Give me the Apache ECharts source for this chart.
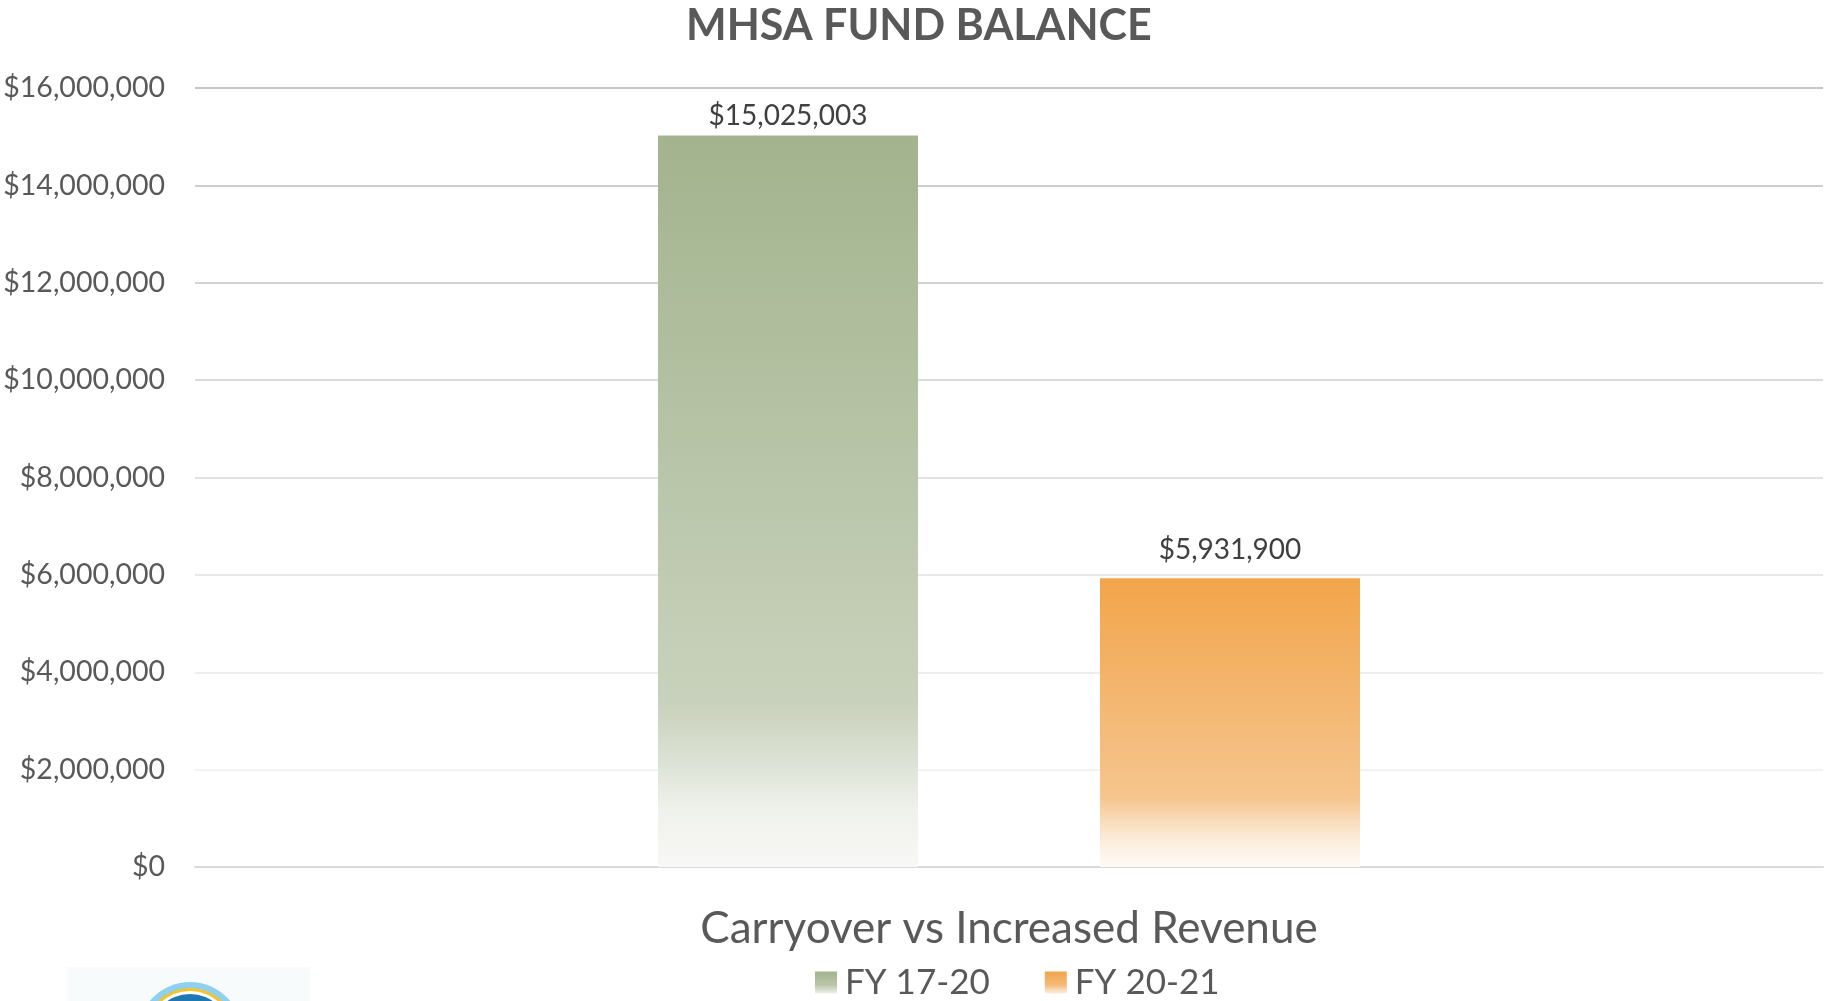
<!DOCTYPE html>
<html>
<head>
<meta charset="utf-8">
<script src="https://cdn.jsdelivr.net/npm/echarts@6/dist/echarts.min.js"></script>
<style>
html,body{margin:0;padding:0;background:#fff;}
#chart{width:1827px;height:1001px;}
</style>
</head>
<body>
<div id="chart"></div>
<script>
const categories = ['Carryover vs Increased Revenue'];
const seriesNames = ['FY 17-20', 'FY 20-21'];
const fy1720 = [15025003];
const fy2021 = [5931900];
const yTicks = { min: 0, max: 16000000, interval: 2000000 };

const FONT = 'Lato, "Open Sans", sans-serif';
const money = v => '$' + Math.round(v).toLocaleString('en-US');

const greenGrad = new echarts.graphic.LinearGradient(0, 0, 0, 1, [
  { offset: 0, color: '#a3b38d' },
  { offset: 0.45, color: '#b8c5a8' },
  { offset: 0.78, color: '#c9d2bc' },
  { offset: 0.86, color: '#dde3d6' },
  { offset: 0.92, color: '#eff1eb' },
  { offset: 1, color: '#f8f8f6' }
]);
const orangeGrad = new echarts.graphic.LinearGradient(0, 0, 0, 1, [
  { offset: 0, color: '#f2a54a' },
  { offset: 0.5, color: '#f4ba78' },
  { offset: 0.76, color: '#f6c58e' },
  { offset: 0.84, color: '#f9dcbb' },
  { offset: 0.92, color: '#fcefe0' },
  { offset: 1, color: '#fefaf6' }
]);
const greenLegend = new echarts.graphic.LinearGradient(0, 0, 0, 1, [
  { offset: 0, color: '#a3b38d' }, { offset: 0.6, color: '#b8c5a8' }, { offset: 1, color: '#eef1ea' }
]);
const orangeLegend = new echarts.graphic.LinearGradient(0, 0, 0, 1, [
  { offset: 0, color: '#f2a54a' }, { offset: 0.6, color: '#f4ba78' }, { offset: 1, color: '#fcefe0' }
]);

const chart = echarts.init(document.getElementById('chart'), null, { renderer: 'canvas' });
chart.setOption({
  animation: false,
  backgroundColor: '#ffffff',
  title: {
    text: 'MHSA FUND BALANCE',
    left: 681,
    top: 0,
    textStyle: { fontFamily: FONT, fontWeight: 'bold', fontSize: 43, color: '#595959' }
  },
  grid: { left: 195, right: 4, top: 88, bottom: 134, containLabel: false },
  legend: {
    data: [
      { name: seriesNames[0], itemStyle: { color: greenLegend } },
      { name: seriesNames[1], itemStyle: { color: orangeLegend } }
    ],
    top: 960,
    left: 810,
    itemWidth: 22,
    itemHeight: 22,
    itemGap: 55,
    icon: 'rect',
    textStyle: { fontFamily: FONT, fontSize: 35, color: '#595959', padding: [0, 0, 0, 3] }
  },
  xAxis: {
    type: 'category',
    data: categories,
    axisTick: { show: false },
    axisLine: { lineStyle: { color: '#d9d9d9', width: 2 } },
    axisLabel: { fontFamily: FONT, fontSize: 44, color: '#595959', margin: 40 }
  },
  yAxis: {
    type: 'value',
    min: yTicks.min,
    max: yTicks.max,
    interval: yTicks.interval,
    axisLine: { show: false },
    axisTick: { show: false },
    axisLabel: { fontFamily: FONT, fontSize: 28.5, color: '#595959', margin: 30, formatter: money },
    splitLine: {
      lineStyle: {
        width: 2,
        color: ['#d9d9d9', '#f2f2f2', '#eeeeee', '#e8e8e8', '#e2e2e2', '#dbdbdb', '#d3d3d3', '#cdcdcd', '#c6c6c6']
      }
    }
  },
  series: [
    {
      name: seriesNames[0],
      type: 'bar',
      data: fy1720,
      barWidth: 260,
      barGap: '70%',
      itemStyle: { color: greenGrad },
      z: 1,
      label: { show: true, position: 'top', distance: 6, fontFamily: FONT, fontSize: 28, color: '#404040', formatter: p => money(p.value) }
    },
    {
      name: seriesNames[1],
      type: 'bar',
      data: fy2021,
      barWidth: 260,
      itemStyle: { color: orangeGrad },
      z: 1,
      label: { show: true, position: 'top', distance: 14, fontFamily: FONT, fontSize: 28, color: '#404040', formatter: p => money(p.value) }
    }
  ],
  graphic: [
    { type: 'rect', left: 67, top: 967, shape: { width: 243, height: 40 }, style: { fill: '#f7fbfb' }, silent: true },
    { type: 'circle', shape: { cx: 190, cy: 1034, r: 52 }, style: { fill: '#8fd0ef' }, silent: true },
    { type: 'circle', shape: { cx: 190, cy: 1034, r: 46 }, style: { fill: '#f4c430' }, silent: true },
    { type: 'circle', shape: { cx: 190, cy: 1034, r: 43 }, style: { fill: '#ffffff' }, silent: true },
    { type: 'circle', shape: { cx: 190, cy: 1034, r: 40 }, style: { fill: '#1f78b4' }, silent: true }
  ]
});
</script>
</body>
</html>
